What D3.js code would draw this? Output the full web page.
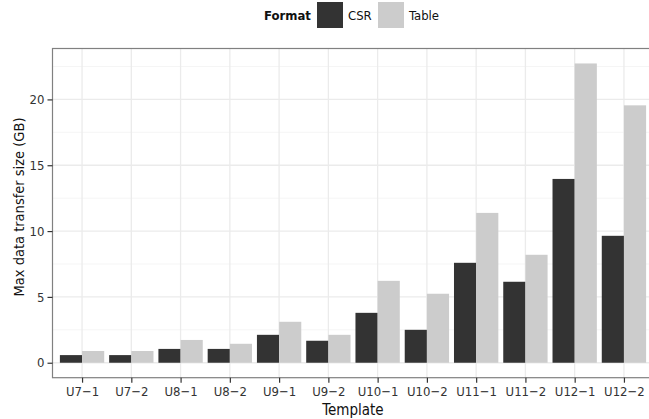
<!DOCTYPE html>
<html>
<head>
<meta charset="utf-8">
<script src="https://cdn.jsdelivr.net/npm/d3@7"></script>
<style>
  body { margin: 0; background: #fff; }
  svg { display: block; font-family: "DejaVu Sans Condensed", "DejaVu Sans", sans-serif; font-stretch: condensed; }
</style>
</head>
<body>
<div id="vis"></div>
<script>
// data
var templates = ["U7\u22121", "U7\u22122", "U8\u22121", "U8\u22122", "U9\u22121", "U9\u22122",
  "U10\u22121", "U10\u22122", "U11\u22121", "U11\u22122", "U12\u22121", "U12\u22122"];
var formats = ["CSR", "Table"];
var csrValues = [0.58, 0.58, 1.05, 1.05, 2.12, 1.67, 3.79, 2.5, 7.59, 6.15, 13.96, 9.64];
var tableValues = [0.89, 0.89, 1.73, 1.44, 3.11, 2.12, 6.22, 5.24, 11.38, 8.2, 22.73, 19.55];
var yTicks = [0, 5, 10, 15, 20];
var yMinor = [2.5, 7.5, 12.5, 17.5, 22.5];
var colors = { CSR: "#333333", Table: "#cccccc" };

var data = [];
templates.forEach((t, i) => {
  data.push({ template: t, format: "CSR", value: csrValues[i] });
  data.push({ template: t, format: "Table", value: tableValues[i] });
});

// panel box (window.top is reserved, so no bare "top" here)
var W = 649, H = 419;
var pLeft = 52.5, pTop = 48.5, pRight = 653.5, pBottom = 377.7;
var FONT = "'DejaVu Sans Condensed', 'DejaVu Sans', sans-serif";

var svg = d3.select("#vis").append("svg").attr("width", W).attr("height", H);

// ggplot style expansion: 0.6 units on discrete, 5% on continuous
var step = (pRight - pLeft) / (templates.length - 1 + 1.2);
var x = d3.scalePoint().domain(templates)
  .range([pLeft + 0.6 * step, pRight - 0.6 * step]);
var bw = step * 0.9;
var xSub = d3.scaleBand().domain(formats).range([-bw / 2, bw / 2]).padding(0);

var maxV = d3.max(data, d => d.value);
var y = d3.scaleLinear()
  .domain([-0.05 * maxV, maxV * 1.05])
  .range([pBottom, pTop]);

var panel = svg.append("g");

// grid lines
panel.selectAll(".minor").data(yMinor).enter().append("line")
  .attr("x1", pLeft).attr("x2", pRight)
  .attr("y1", d => y(d)).attr("y2", d => y(d))
  .attr("stroke", "#f5f5f5").attr("stroke-width", 1);
panel.selectAll(".major").data(yTicks).enter().append("line")
  .attr("x1", pLeft).attr("x2", pRight)
  .attr("y1", d => y(d)).attr("y2", d => y(d))
  .attr("stroke", "#ebebeb").attr("stroke-width", 1.3);
panel.selectAll(".vgrid").data(templates).enter().append("line")
  .attr("x1", d => x(d)).attr("x2", d => x(d))
  .attr("y1", pTop).attr("y2", pBottom)
  .attr("stroke", "#ebebeb").attr("stroke-width", 1.3);

// bars
panel.selectAll("rect.bar").data(data).enter().append("rect")
  .attr("class", "bar")
  .attr("x", d => x(d.template) + xSub(d.format))
  .attr("width", xSub.bandwidth())
  .attr("y", d => y(d.value))
  .attr("height", d => y(0) - y(d.value))
  .attr("fill", d => colors[d.format]);

// panel border
svg.append("rect")
  .attr("x", pLeft).attr("y", pTop)
  .attr("width", pRight - pLeft).attr("height", pBottom - pTop)
  .attr("fill", "none").attr("stroke", "#808080").attr("stroke-width", 1.2);

// axes
var yAxis = svg.append("g").attr("transform", `translate(${pLeft},0)`)
  .call(d3.axisLeft(y).tickValues(yTicks).tickSize(5).tickPadding(3));
var xAxis = svg.append("g").attr("transform", `translate(0,${pBottom})`)
  .call(d3.axisBottom(x).tickSize(5).tickPadding(4));
[xAxis, yAxis].forEach(a => {
  a.select(".domain").remove();
  a.selectAll("line").attr("stroke", "#333").attr("stroke-width", 1.2);
  a.selectAll("text").attr("fill", "#333").style("font-size", "13px")
    .style("font-family", FONT);
});

// axis titles
svg.append("text")
  .attr("x", (pLeft + pRight) / 2).attr("y", 415)
  .attr("text-anchor", "middle").style("font-size", "15px").attr("fill", "#111")
  .text("Template");
svg.append("text")
  .attr("transform", `translate(24,207) rotate(-90)`)
  .attr("text-anchor", "middle").style("font-size", "14.5px").attr("fill", "#111")
  .text("Max data transfer size (GB)");

// legend
var legend = svg.append("g");
legend.append("text").attr("x", 264).attr("y", 20)
  .style("font-size", "13px").style("font-weight", "bold").attr("fill", "#111")
  .text("Format");
var keyX = { CSR: 317, Table: 378 };
formats.forEach(f => {
  legend.append("rect").attr("x", keyX[f]).attr("y", 2)
    .attr("width", 26).attr("height", 26).attr("fill", colors[f]);
  legend.append("text").attr("x", keyX[f] + 31).attr("y", 20)
    .style("font-size", "13px").attr("fill", "#111").text(f);
});
</script>
</body>
</html>
